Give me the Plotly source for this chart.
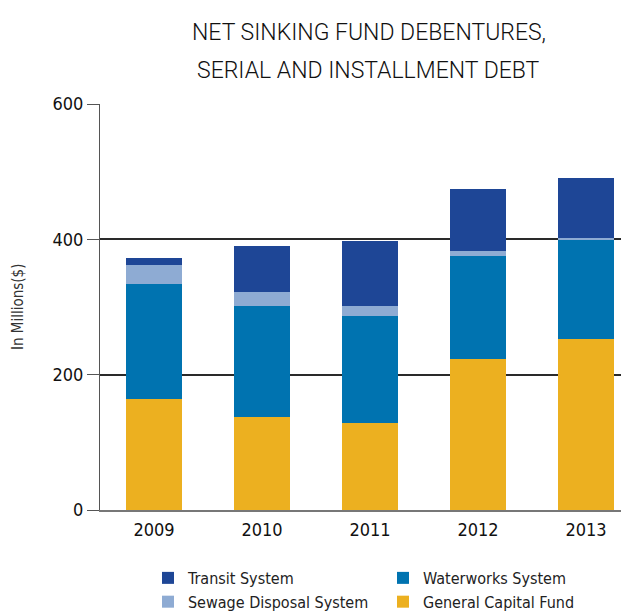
import plotly.graph_objects as go

years = ["2009", "2010", "2011", "2012", "2013"]
general_capital = [164, 137, 128, 223, 252]
waterworks = [170, 164, 159, 152, 148]
sewage = [28, 21, 14, 8, 2]
transit = [10, 68, 96, 91, 88]

title_lines = ["NET SINKING FUND DEBENTURES,", "SERIAL AND INSTALLMENT DEBT"]
y_ticks = [0, 200, 400, 600]
y_label = "In Millions($)"

FONT = "DejaVu Sans Condensed, Liberation Sans Narrow, Arial Narrow, sans-serif"
TITLE_FONT = "Roboto, DejaVu Sans Condensed, sans-serif"
colors = {
    "Transit System": "#1e4696",
    "Waterworks System": "#0073b0",
    "Sewage Disposal System": "#8eabd3",
    "General Capital Fund": "#ecb020",
}

fig = go.Figure()
for name, vals, rank in [
    ("General Capital Fund", general_capital, 4),
    ("Waterworks System", waterworks, 2),
    ("Sewage Disposal System", sewage, 3),
    ("Transit System", transit, 1),
]:
    fig.add_trace(go.Bar(
        x=years, y=vals, name=name, marker_color=colors[name],
        marker_line_width=0, legendrank=rank,
    ))

# page body adds an 8px margin, so the figure is sized to fit inside the window
fig.update_layout(
    barmode="stack",
    bargap=0.49,
    width=621, height=607,
    margin=dict(l=92, r=0, t=96, b=105),
    paper_bgcolor="white", plot_bgcolor="white",
    font=dict(family=FONT, color="#111111"),
    showlegend=True,
    legend=dict(
        orientation="h", xref="container", yref="container",
        x=0.2254, xanchor="left", y=0.089, yanchor="top",
        entrywidth=190, entrywidthmode="pixels",
        font=dict(size=16, family=FONT, color="#222222"),
        traceorder="normal", tracegroupgap=0, itemclick=False,
    ),
)
fig.update_xaxes(
    type="category", range=[-0.5, 4.398], showgrid=False, zeroline=False,
    showline=True, linecolor="#777777", linewidth=1.5, ticks="",
    tickfont=dict(size=18, family=FONT, color="#111111"),
    ticklabelstandoff=3,
)
fig.update_yaxes(
    range=[0, 600], tickvals=y_ticks, showgrid=True, gridcolor="#2a2a2a",
    gridwidth=1.5, zeroline=False, showline=True, linecolor="#555555",
    linewidth=1.2, ticks="outside", ticklen=12, tickcolor="#555555",
    tickwidth=1.2,
    tickfont=dict(size=18, family=FONT, color="#111111"),
)
for i, line in enumerate(title_lines):
    fig.add_annotation(
        text=line, xref="paper", yref="paper",
        x=0.508, y=[1.177, 1.0837][i], xanchor="center", yanchor="middle",
        showarrow=False,
        font=dict(size=23, family=TITLE_FONT, color="#111111", weight=300),
    )
fig.add_annotation(
    text=y_label, xref="paper", yref="paper", x=-0.155, y=0.5,
    xanchor="center", yanchor="middle", textangle=-90, showarrow=False,
    font=dict(size=15, family=FONT, color="#333333"),
)
fig.write_html("out.html")
